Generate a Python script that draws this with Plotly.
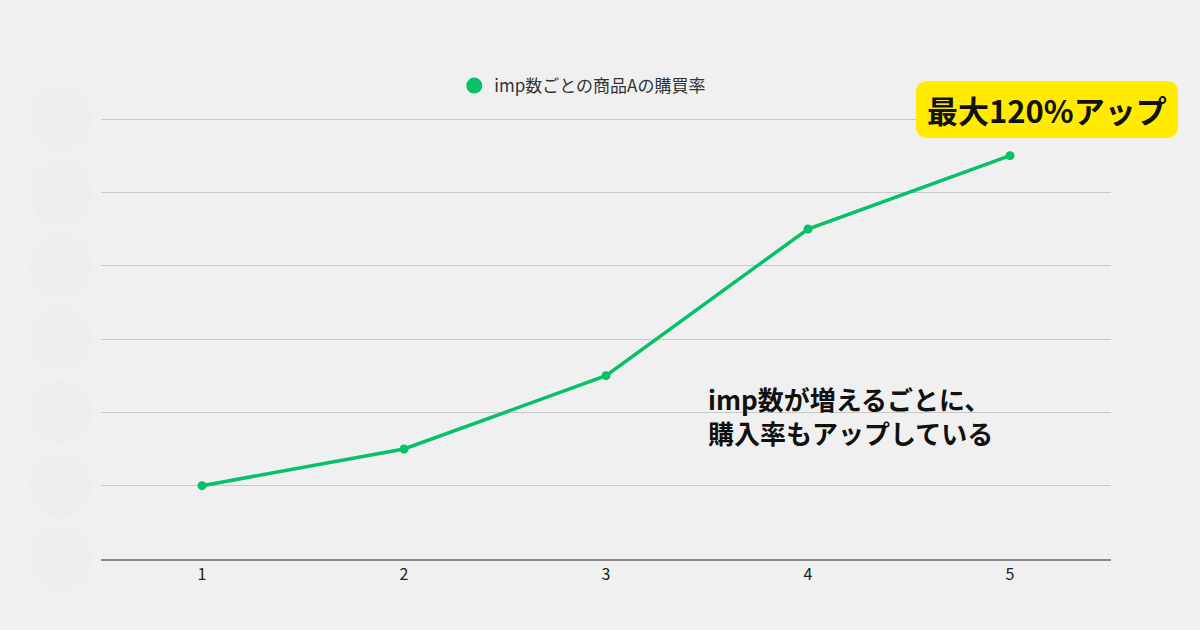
import plotly.graph_objects as go

# Data
x_values = [1, 2, 3, 4, 5]
purchase_rate = [1.0, 1.5, 2.5, 4.5, 5.5]
series_name = "imp数ごとの商品Aの購買率"
y_gridlines = [0, 1, 2, 3, 4, 5, 6]

GREEN = "#06c167"
FONT = "Noto Sans CJK JP"

PLOT_H = 444  # pixels
Y_TOP = 6 * PLOT_H / 440

fig = go.Figure()
fig.add_trace(go.Scatter(
    x=x_values, y=purchase_rate, name=series_name,
    mode="lines+markers",
    line=dict(color=GREEN, width=3.5),
    marker=dict(color=GREEN, size=9),
    showlegend=False,
))
# legend entry shown as a dot only
fig.add_trace(go.Scatter(
    x=[None], y=[None], name=series_name, mode="markers",
    marker=dict(color=GREEN, size=16), showlegend=True,
))

def py(pix):
    return (559 - pix) / PLOT_H

# faint circles masking y-axis labels (decorative)
shapes = []
for v in y_gridlines:
    cy = v / Y_TOP
    shapes.append(dict(type="circle", xref="paper", yref="paper",
                       x0=-0.071, x1=-0.009, y0=cy - 32 / PLOT_H, y1=cy + 32 / PLOT_H,
                       fillcolor="#eeeeee", line=dict(width=0), layer="below"))

# rounded yellow box for the callout
x0, x1, y0, y1 = (916 - 101) / 1010, (1178 - 101) / 1010, py(138), py(81)
rx, ry = 12 / 1010, 12 / PLOT_H
path = (f"M {x0+rx},{y0} L {x1-rx},{y0} Q {x1},{y0} {x1},{y0+ry} "
        f"L {x1},{y1-ry} Q {x1},{y1} {x1-rx},{y1} L {x0+rx},{y1} "
        f"Q {x0},{y1} {x0},{y1-ry} L {x0},{y0+ry} Q {x0},{y0} {x0+rx},{y0} Z")
shapes.append(dict(type="path", xref="paper", yref="paper", path=path,
                   fillcolor="#ffea00", line=dict(width=0), layer="above"))

fig.update_layout(
    width=1200, height=630,
    paper_bgcolor="#f0f0f0", plot_bgcolor="#f0f0f0",
    margin=dict(l=101, r=89, t=630 - 71 - PLOT_H, b=71),
    font=dict(family=FONT, color="#333333", size=14),
    shapes=shapes,
    legend=dict(orientation="h", x=0.477, xanchor="center", y=py(86), yanchor="middle",
                font=dict(size=17, color="#333333", family=FONT),
                itemsizing="trace", bgcolor="rgba(0,0,0,0)"),
    xaxis=dict(range=[0.5, 5.5], tickmode="array", tickvals=x_values,
               ticktext=[str(v) for v in x_values], showgrid=False, zeroline=False,
               showline=True, linecolor="#8a8a8a", linewidth=1.5, ticks="",
               tickfont=dict(size=16, color="#222222")),
    yaxis=dict(range=[0, Y_TOP], tickvals=y_gridlines, showticklabels=False,
               showgrid=True, gridcolor="#c8c8c8", gridwidth=1, zeroline=False,
               showline=False),
    annotations=[
        dict(text="<b>最大120%アップ</b>", xref="paper", yref="paper",
             x=(x0 + x1) / 2, y=(y0 + y1) / 2, xanchor="center", yanchor="middle",
             showarrow=False, font=dict(size=31, color="#111111", family=FONT)),
        dict(text="<b>imp数が増えるごとに、<br>購入率もアップしている</b>", xref="paper", yref="paper",
             x=(706 - 101) / 1010, y=py(415), xanchor="left", yanchor="middle",
             align="left", showarrow=False,
             font=dict(size=26, color="#111111", family=FONT)),
    ],
)

fig.write_html("out.html")
